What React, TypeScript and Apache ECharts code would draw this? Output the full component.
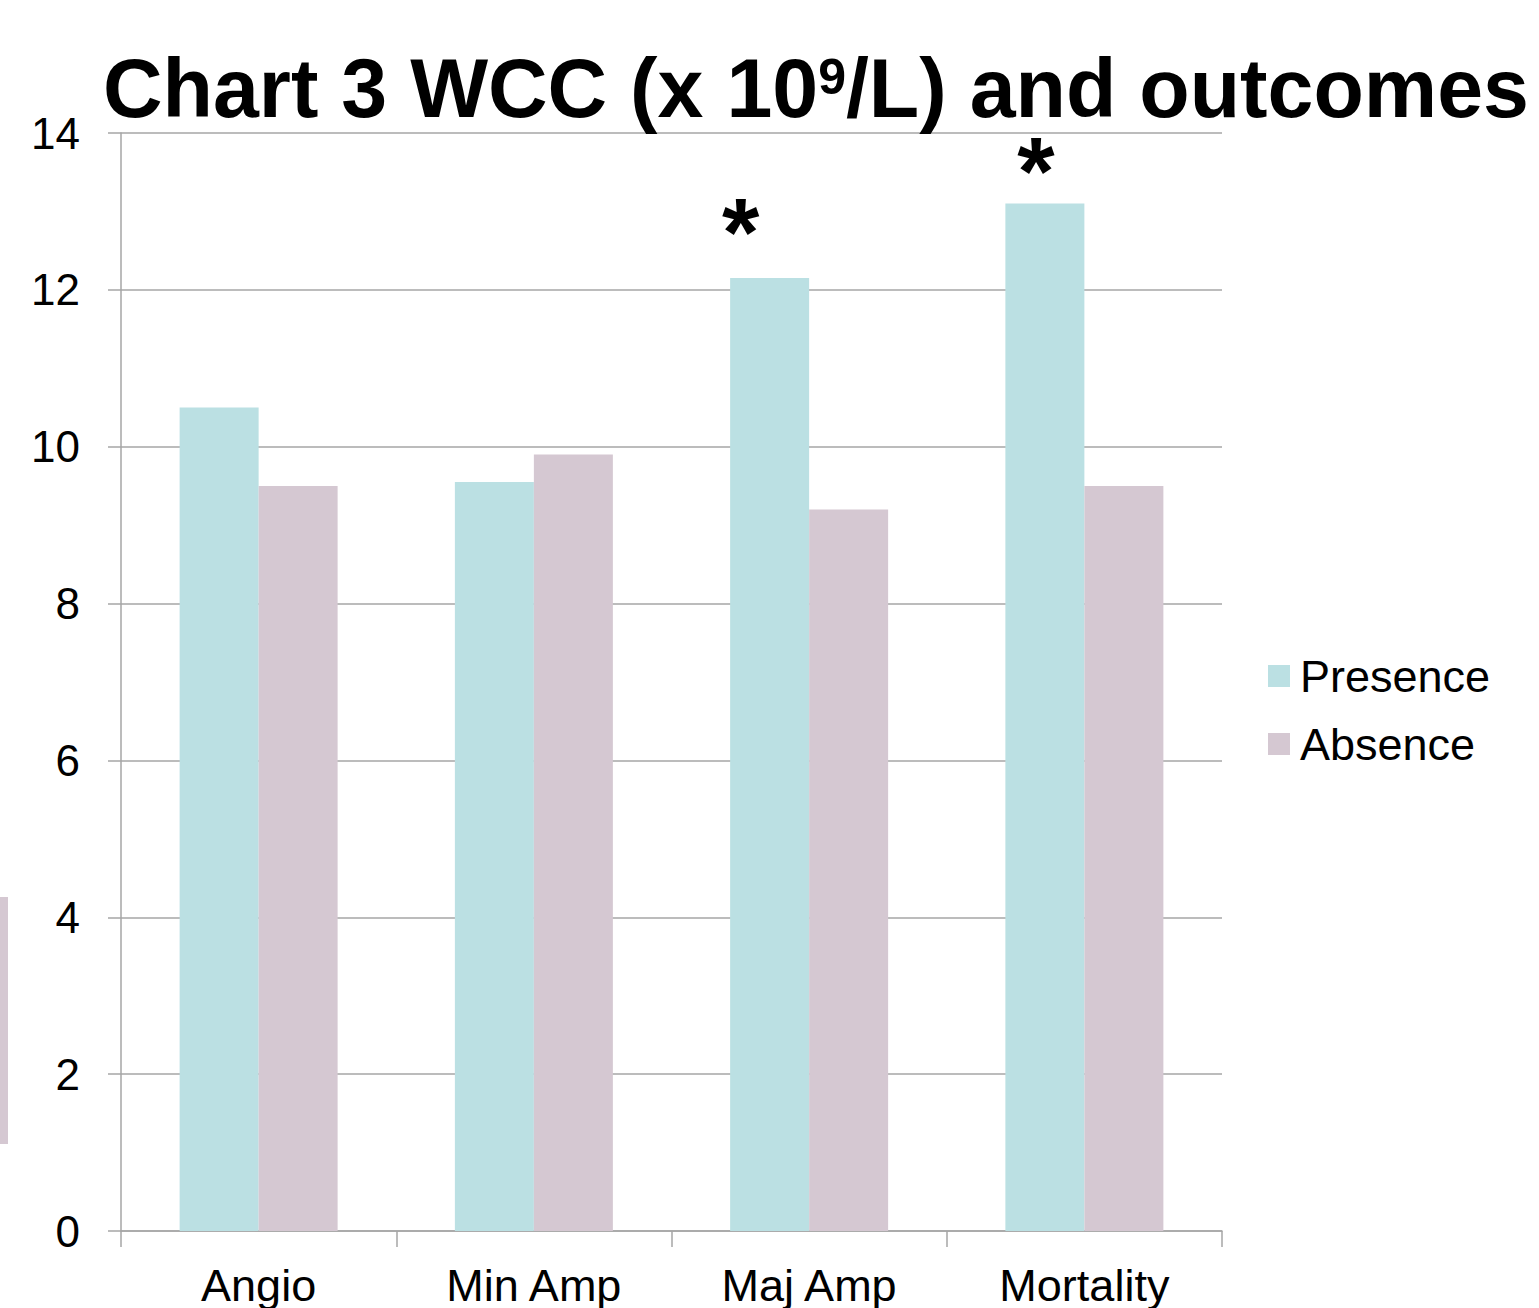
import React, { useEffect, useRef } from "react";
import * as echarts from "echarts";

const categories = ["Angio", "Min Amp", "Maj Amp", "Mortality"];
const presence = [10.5, 9.55, 12.15, 13.1];
const absence = [9.5, 9.9, 9.2, 9.5];
const significant = [false, false, true, true];
const yTicks = [0, 2, 4, 6, 8, 10, 12, 14];

const asteriskOffsets: Record<number, [number, number]> = {
  2: [-29, 6],
  3: [-9, 20],
};

const FONT = "Liberation Sans, Arial, sans-serif";

export default function App() {
  const ref = useRef<HTMLDivElement>(null);
  useEffect(() => {
    if (!ref.current) return;
    const chart = echarts.init(ref.current, undefined, { renderer: "svg" });
    chart.setOption({
      animation: false,
      backgroundColor: "#ffffff",
      title: {
        text: "{m|Chart 3 WCC (x 10}{s|9}{m|/L) and outcomes}",
        left: 98,
        top: 38,
        textStyle: {
          rich: {
            m: { fontFamily: FONT, fontWeight: "bold", fontSize: 82.5, lineHeight: 90, color: "#000" },
            s: { fontFamily: FONT, fontWeight: "bold", fontSize: 50, lineHeight: 50, verticalAlign: "top", padding: [9, 0, 0, 0], color: "#000" },
          },
        },
      },
      legend: {
        orient: "vertical",
        left: 1263,
        top: 647,
        icon: "rect",
        itemWidth: 22,
        itemHeight: 22,
        itemGap: 20,
        textStyle: { fontFamily: FONT, fontSize: 45, color: "#000", lineHeight: 48, padding: [0, 0, 0, 5] },
        data: ["Presence", "Absence"],
      },
      grid: { left: 121, right: 317, top: 133, bottom: 75, containLabel: false },
      xAxis: {
        type: "category",
        data: categories,
        axisLine: { lineStyle: { color: "#a6a6a6", width: 1.5 } },
        axisTick: { show: true, alignWithLabel: false, length: 16, lineStyle: { color: "#a6a6a6", width: 1.5 } },
        axisLabel: { fontFamily: FONT, fontSize: 45, color: "#000", margin: 32 },
      },
      yAxis: {
        type: "value",
        min: 0,
        max: 14,
        interval: 2,
        axisLine: { show: true, lineStyle: { color: "#a6a6a6", width: 1.5 } },
        axisTick: { show: true, length: 13, lineStyle: { color: "#a6a6a6", width: 1.5 } },
        splitLine: { show: true, lineStyle: { color: "#a6a6a6", width: 1.5 } },
        axisLabel: {
          fontFamily: FONT,
          fontSize: 44,
          color: "#000",
          margin: 41,
          formatter: (v: number) => (yTicks.includes(v) ? String(v) : ""),
        },
      },
      series: [
        {
          name: "Presence",
          type: "bar",
          barWidth: 79,
          barGap: "0%",
          itemStyle: { color: "#bbe0e3" },
          data: presence.map((v, i) => ({
            value: v,
            label: {
              show: significant[i],
              position: "top",
              formatter: "*",
              fontFamily: FONT,
              fontWeight: "bold",
              fontSize: 96,
              color: "#000",
              offset: asteriskOffsets[i] || [0, 0],
            },
          })),
        },
        {
          name: "Absence",
          type: "bar",
          barWidth: 79,
          barGap: "0%",
          itemStyle: { color: "#d5c8d2" },
          data: absence,
        },
      ],
      graphic: [
        {
          type: "rect",
          left: 0,
          top: 897,
          shape: { width: 8, height: 247 },
          style: { fill: "#d5c8d2" },
          silent: true,
        },
      ],
    });
    return () => chart.dispose();
  }, []);
  return <div ref={ref} style={{ width: 1539, height: 1308, position: "absolute", left: 0, top: 0 }} />;
}
